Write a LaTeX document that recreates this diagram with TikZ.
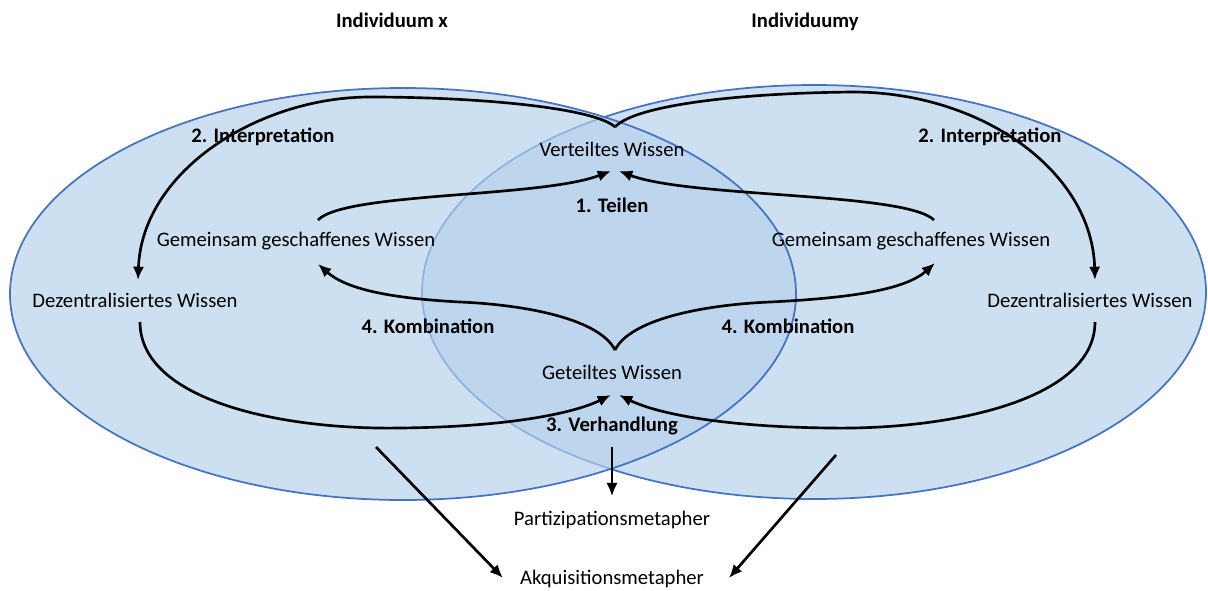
\documentclass[tikz,border=0pt]{standalone}
\usepackage{fontspec}
\setmainfont{Carlito}
\usetikzlibrary{arrows.meta}
\definecolor{ringblue}{HTML}{4472C4}
\definecolor{ringfill}{HTML}{B5D1EC}
\begin{document}
\begin{tikzpicture}[x=0.75pt,y=-0.75pt,
  font=\fontsize{15.5}{18}\selectfont,
  ring/.style={draw=ringblue,line width=1.3pt,fill=ringfill,fill opacity=0.68},
  lbl/.style={inner sep=1pt},
  stage/.style={inner sep=1pt,font=\fontsize{15.5}{18}\selectfont\bfseries},
  flow/.style={line width=2pt,-{Latex[length=10pt,width=8.5pt]}}]
\useasboundingbox (0,0) rectangle (1208,590);

% the two individuals as overlapping ellipses (right one lies underneath)
\path[ring] (814,292) ellipse [x radius=392, y radius=207];
\path[ring] (403,294) ellipse [x radius=393, y radius=206];

% titles, set on a common baseline
\node[stage,anchor=base] (ix) at (392,27) {Individuum x};
\node[stage,anchor=base] (iy) at (805,27) {Individuumy};

% knowledge forms
\node[lbl] (vert) at (612,149) {Verteiltes Wissen};
\node[lbl] (gemL) at (296,241) {Gemeinsam geschaffenes Wissen};
\node[lbl] (gemR) at (911,241) {Gemeinsam geschaffenes Wissen};
\node[lbl] (dezL) at (135,300) {Dezentralisiertes Wissen};
\node[lbl] (dezR) at (1090,300) {Dezentralisiertes Wissen};
\node[lbl] (get)  at (612,372) {Geteiltes Wissen};
\node[lbl] (part) at (612,520) {Partizipationsmetapher};
\node[lbl] (akq)  at (612,579) {Akquisitionsmetapher};

% stage labels
\node[stage] (intL) at (263,137) {2. Interpretation};
\node[stage] (intR) at (990,137) {2. Interpretation};
\node[stage] (teil) at (612,205) {1. Teilen};
\node[stage] (kombL) at (428,326) {4. Kombination};
\node[stage] (kombR) at (788,326) {4. Kombination};
\node[stage] (verh) at (612,426) {3. Verhandlung};

% anchor points of the braces and arrows
\coordinate (vcusp) at (615,127);
\coordinate (gcusp) at (615,350);
\coordinate (dezLin) at (138,280);
\coordinate (dezRin) at (1095,280);
\coordinate (dezLout) at (140,322);
\coordinate (dezRout) at (1095,322);
\coordinate (gemLtop) at (318,220);
\coordinate (gemRtop) at (934,220);
\coordinate (gemLin) at (318,264);
\coordinate (gemRin) at (935,263);
\coordinate (vertinL) at (611,171);
\coordinate (vertinR) at (619,171);
\coordinate (getinL) at (611,395);
\coordinate (getinR) at (619,395);
\coordinate (xfoot) at (376,447);
\coordinate (yfoot) at (836,455);
\coordinate (akqL) at (503,578);
\coordinate (akqR) at (729,578);

% 2. Interpretation
\draw[flow] (vcusp) .. controls (595,108) and (480,97) .. (370,97)
  .. controls (260,97) and (142,170) .. (dezLin);
\draw[flow] (vcusp) .. controls (635,105) and (740,93) .. (853,92)
  .. controls (980,92) and (1092,170) .. (dezRin);

% 1. Teilen
\draw[flow] (gemLtop) .. controls (345,192) and (540,198) .. (vertinL);
\draw[flow] (gemRtop) .. controls (905,192) and (690,198) .. (vertinR);

% 4. Kombination
\draw[flow] (gcusp) .. controls (600,320) and (530,305) .. (460,302)
  .. controls (385,298) and (345,288) .. (gemLin);
\draw[flow] (gcusp) .. controls (630,320) and (700,305) .. (770,302)
  .. controls (850,298) and (905,290) .. (gemRin);

% 3. Verhandlung
\draw[flow] (dezLout) .. controls (140,400) and (280,430) .. (400,428)
  .. controls (500,427) and (570,415) .. (getinL);
\draw[flow] (dezRout) .. controls (1095,400) and (950,430) .. (830,428)
  .. controls (730,427) and (660,415) .. (getinR);

% metaphors
\draw[flow] ([yshift=-8pt]verh.south) -- ([yshift=10pt]part.north);
\draw[flow] (xfoot) -- (akqL);
\draw[flow] (yfoot) -- (akqR);
\end{tikzpicture}
\end{document}
